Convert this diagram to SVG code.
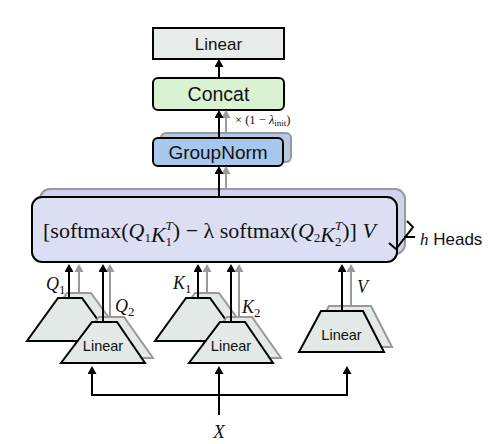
<svg xmlns="http://www.w3.org/2000/svg" width="489" height="444" viewBox="0 0 489 444">
<style>
.sans{font-family:"Liberation Sans",Arial,sans-serif;fill:#111}
.serif{font-family:"Liberation Serif","Times New Roman",serif;fill:#111}
.it{font-style:italic}
.blk{stroke:#000;stroke-width:2;fill:none}
.gry{stroke:#999;stroke-width:2;fill:none}
.trap{fill:#e3e9e6;stroke:#000;stroke-width:2;stroke-linejoin:miter}
.trapsh{fill:#e3e9e6;stroke:#999;stroke-width:2}
</style>
<defs>
<marker id="ab" markerUnits="userSpaceOnUse" markerWidth="8" markerHeight="9" viewBox="0 0 8 9" refX="4" refY="4.5" orient="auto"><path d="M0,0 L8,4.5 L0,9 z" fill="#000"/></marker>
<marker id="ag" markerUnits="userSpaceOnUse" markerWidth="8" markerHeight="9" viewBox="0 0 8 9" refX="4" refY="4.5" orient="auto"><path d="M0,0 L8,4.5 L0,9 z" fill="#999"/></marker>
</defs>
<rect width="489" height="444" fill="#fff"/>

<g id="linear-out">
<rect x="153" y="28" width="131" height="31" fill="#e7ecea" stroke="#000" stroke-width="2"/>
<text class="sans" x="218.5" y="49.5" font-size="17" text-anchor="middle">Linear</text>
</g>

<g id="concat">
<rect x="153" y="78" width="131" height="32" rx="5" fill="#d9f3d2" stroke="#000" stroke-width="2"/>
<text class="sans" x="218.5" y="101" font-size="19.5" text-anchor="middle">Concat</text>
</g>

<g id="groupnorm">
<rect x="161" y="133" width="130" height="29" rx="5" fill="#b6c9e3" stroke="#999" stroke-width="2"/>
<rect x="153" y="138" width="130" height="28" rx="5" fill="#a7c7ee" stroke="#000" stroke-width="2"/>
<text class="sans" x="218" y="159" font-size="19" text-anchor="middle">GroupNorm</text>
</g>

<g id="attention">
<rect x="40" y="189" width="365" height="65" rx="10" fill="#cfd3ec" stroke="#999" stroke-width="2"/>
<rect x="32" y="197" width="365" height="65" rx="10" fill="#dcdff3" stroke="#000" stroke-width="2"/>
<text class="serif" x="43" y="238" font-size="22">[softmax(<tspan class="it">Q</tspan><tspan font-size="13" dy="4">1</tspan><tspan class="it">K</tspan><tspan font-size="13" dy="4">1</tspan><tspan class="it" font-size="13" dx="-6.5" dy="-16">T</tspan><tspan dy="8">) − λ softmax(</tspan><tspan class="it">Q</tspan><tspan font-size="13" dy="4">2</tspan><tspan class="it">K</tspan><tspan font-size="13" dy="4">2</tspan><tspan class="it" font-size="13" dx="-6.5" dy="-16">T</tspan><tspan dy="8">)] </tspan><tspan class="it">V</tspan></text>
</g>

<g id="heads">
<path d="M407,221 L413,227 L396,249 L389,243 M404,237 L415,237" class="blk"/>
<text x="420" y="245" font-size="17"><tspan class="serif it">h</tspan><tspan class="sans"> Heads</tspan></text>
</g>

<g id="q-proj">
<polygon class="trapsh" points="67,293 91,293 122,336 36,336"/>
<polygon class="trap" points="58,298 82,298 113,341 27,341"/>
<polygon class="trapsh" points="99,317 124,317 153,358 68,358"/>
<polygon class="trap" points="92,322 117,322 145,363 61,363"/>
<text class="sans" x="103" y="351" font-size="14.5" text-anchor="middle">Linear</text>
</g>

<g id="k-proj">
<polygon class="trapsh" points="195,293 219,293 250,336 164,336"/>
<polygon class="trap" points="186,298 210,298 241,341 155,341"/>
<polygon class="trapsh" points="227,317 252,317 281,358 196,358"/>
<polygon class="trap" points="220,322 245,322 273,363 189,363"/>
<text class="sans" x="231" y="351" font-size="14.5" text-anchor="middle">Linear</text>
</g>

<g id="v-proj">
<polygon class="trapsh" points="329,306 371,306 392,347 307,347"/>
<polygon class="trap" points="321,311 363,311 384,352 299,352"/>
<text class="sans" x="341.5" y="340" font-size="14.5" text-anchor="middle">Linear</text>
</g>

<g id="connectors">
<line class="blk" x1="219" y1="78" x2="219" y2="63" marker-end="url(#ab)"/>
<line class="gry" x1="226" y1="133" x2="226" y2="114" marker-end="url(#ag)"/>
<line class="blk" x1="219" y1="138" x2="219" y2="114" marker-end="url(#ab)"/>
<line class="gry" x1="226" y1="189" x2="226" y2="170" marker-end="url(#ag)"/>
<line class="blk" x1="219" y1="197" x2="219" y2="170" marker-end="url(#ab)"/>

<line class="gry" x1="79" y1="293" x2="79" y2="268" marker-end="url(#ag)"/>
<line class="blk" x1="69" y1="298" x2="69" y2="268" marker-end="url(#ab)"/>
<line class="gry" x1="110" y1="317" x2="110" y2="268" marker-end="url(#ag)"/>
<line class="blk" x1="103" y1="322" x2="103" y2="268" marker-end="url(#ab)"/>
<line class="gry" x1="207" y1="293" x2="207" y2="268" marker-end="url(#ag)"/>
<line class="blk" x1="198" y1="298" x2="198" y2="268" marker-end="url(#ab)"/>
<line class="gry" x1="239" y1="317" x2="239" y2="268" marker-end="url(#ag)"/>
<line class="blk" x1="231" y1="322" x2="231" y2="268" marker-end="url(#ab)"/>
<line class="gry" x1="351" y1="306" x2="351" y2="268" marker-end="url(#ag)"/>
<line class="blk" x1="342" y1="311" x2="342" y2="268" marker-end="url(#ab)"/>

<line class="blk" x1="91" y1="395" x2="348" y2="395"/>
<line class="blk" x1="92" y1="396" x2="92" y2="370" marker-end="url(#ab)"/>
<line class="blk" x1="347" y1="396" x2="347" y2="370" marker-end="url(#ab)"/>
<line class="blk" x1="219" y1="415" x2="219" y2="370" marker-end="url(#ab)"/>
</g>

<g id="labels">
<text class="serif" x="46" y="290" font-size="18"><tspan class="it">Q</tspan><tspan font-size="13" dy="4">1</tspan></text>
<text class="serif" x="115" y="312" font-size="18"><tspan class="it">Q</tspan><tspan font-size="13" dy="4">2</tspan></text>
<text class="serif" x="173" y="289" font-size="18"><tspan class="it">K</tspan><tspan font-size="13" dy="4">1</tspan></text>
<text class="serif" x="242" y="313" font-size="18"><tspan class="it">K</tspan><tspan font-size="13" dy="4">2</tspan></text>
<text class="serif it" x="357" y="293" font-size="18">V</text>
<text class="serif it" x="219" y="438" font-size="19" text-anchor="middle">X</text>
<text class="serif" x="235" y="124" font-size="12.5">× (1 − <tspan class="it">λ</tspan><tspan font-size="9" dy="2">init</tspan><tspan dy="-2">)</tspan></text>
</g>
</svg>
